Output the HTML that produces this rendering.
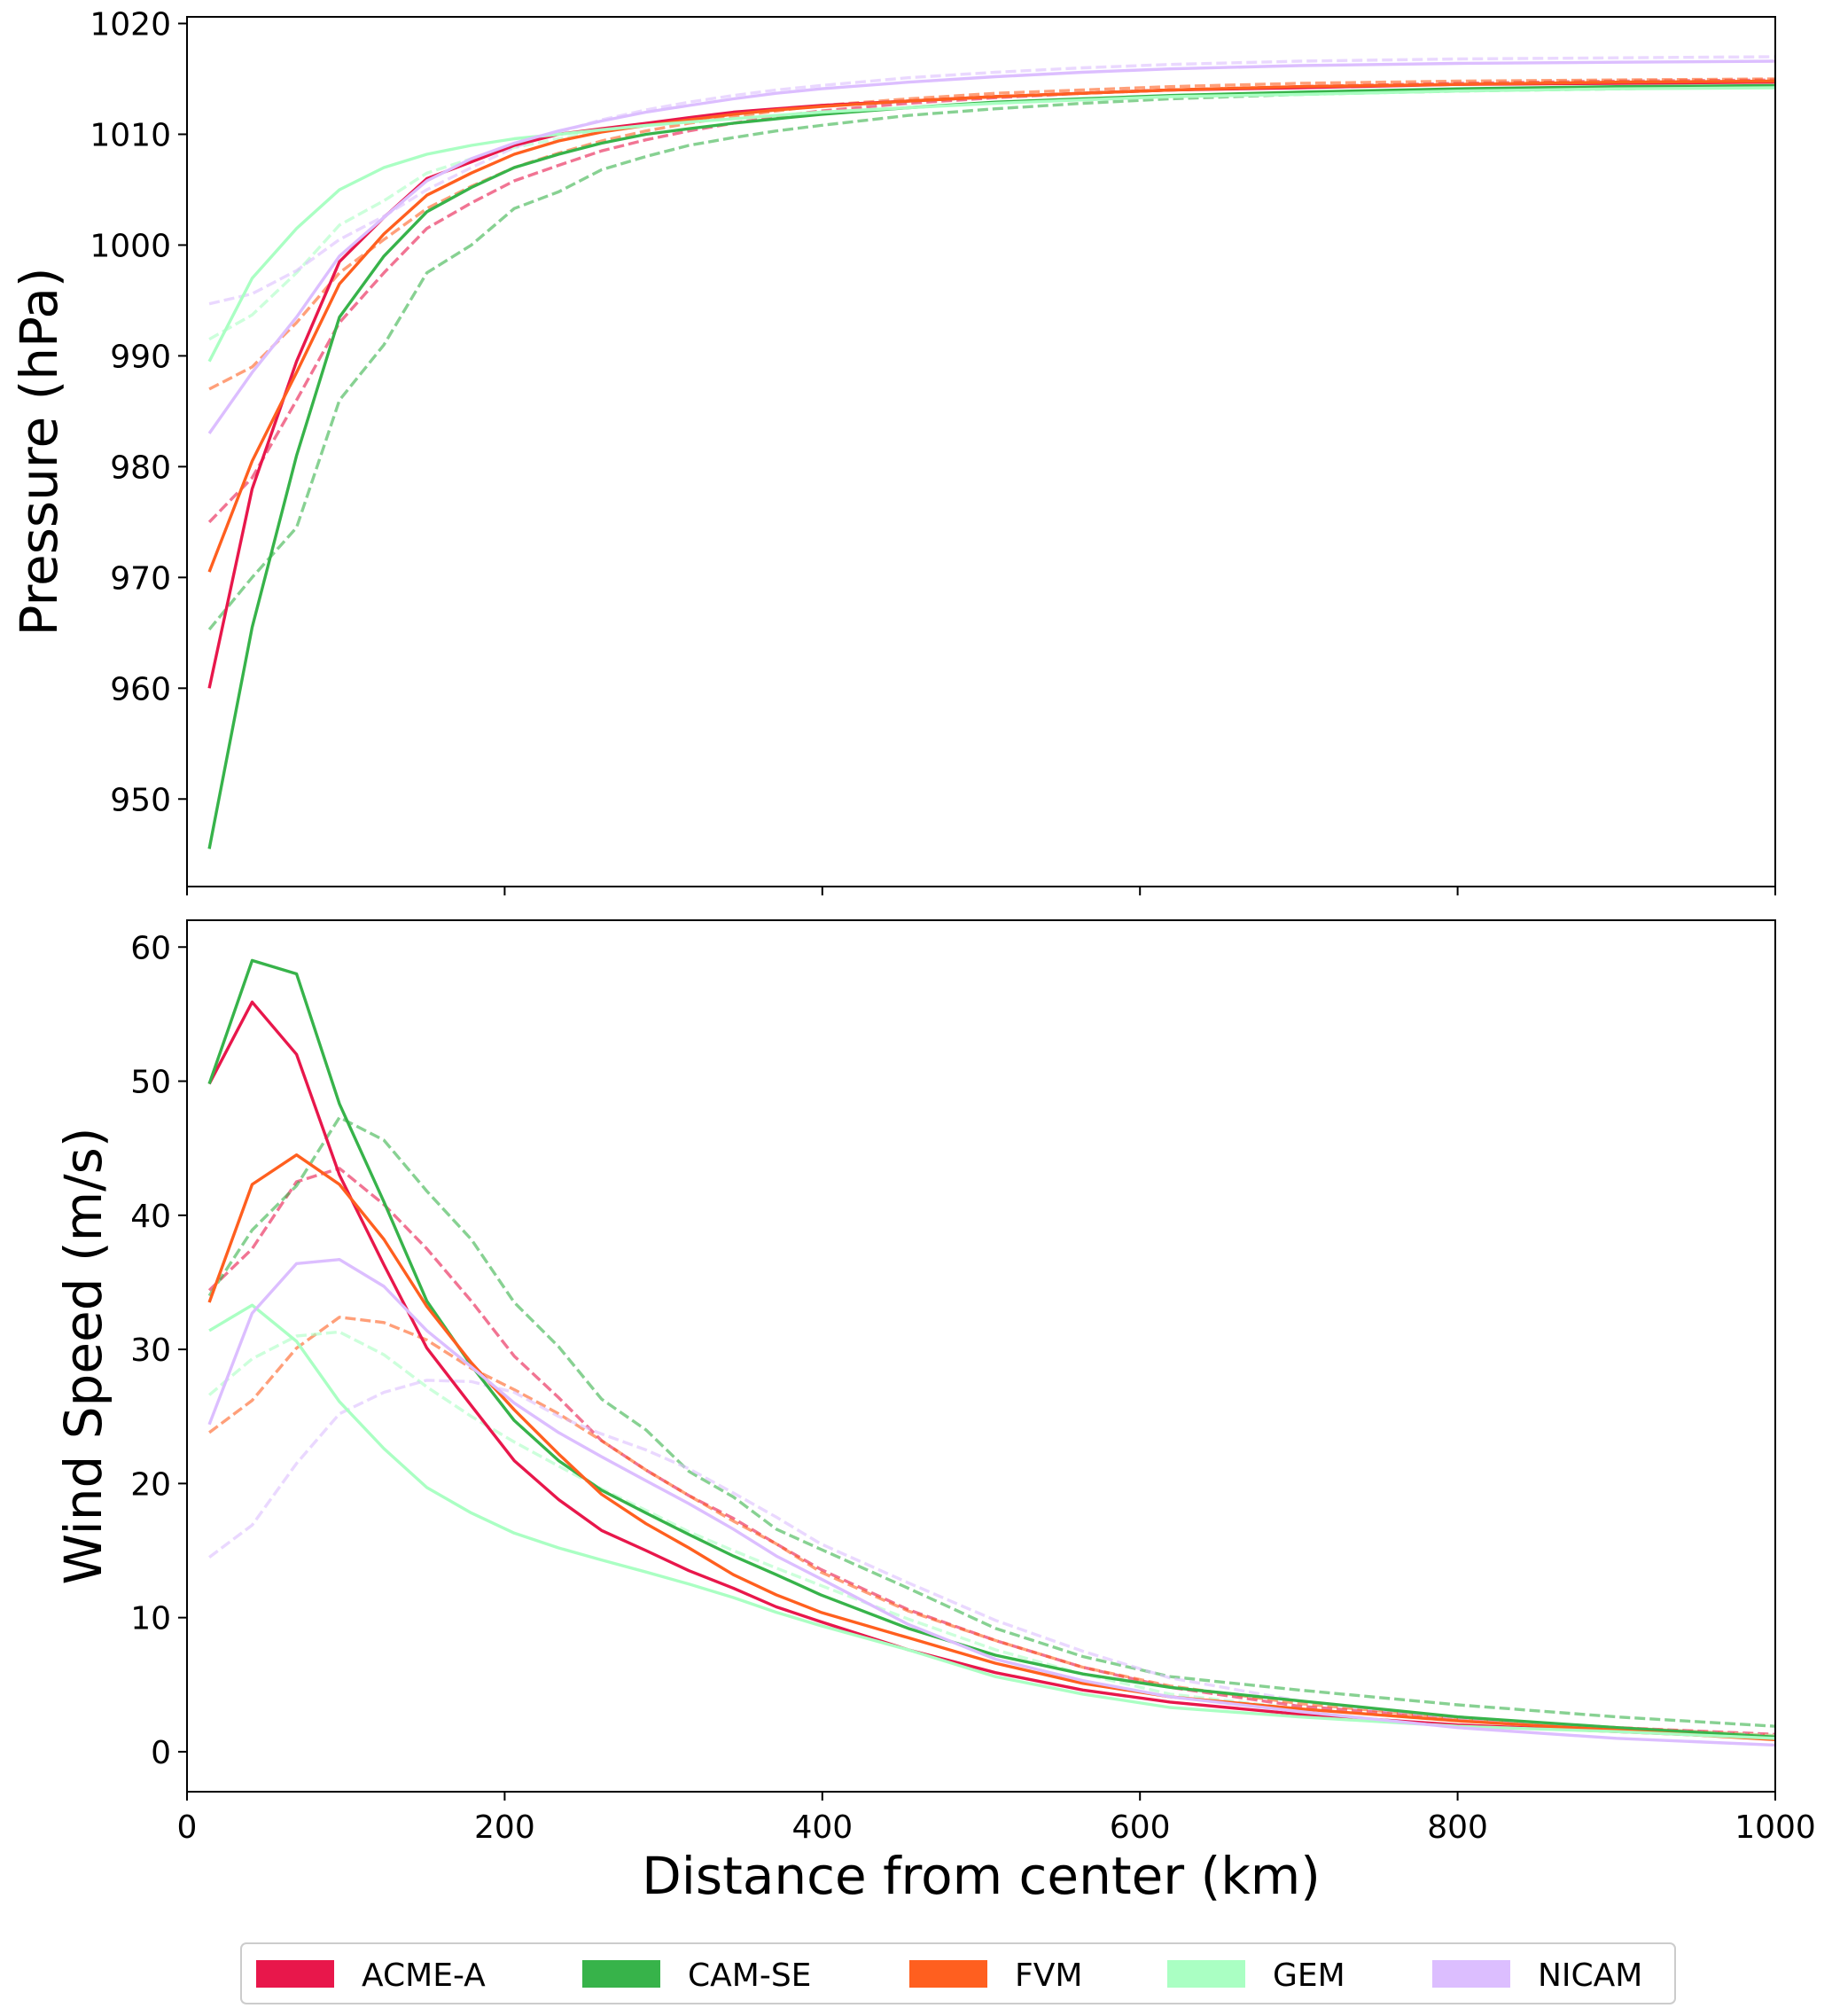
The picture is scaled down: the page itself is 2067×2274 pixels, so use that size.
<!DOCTYPE html>
<html><head><meta charset="utf-8">
<style>
html,body{margin:0;padding:0;background:#fff;}
svg{display:block;font-family:"DejaVu Sans","Liberation Sans",sans-serif;}
</style></head>
<body>
<svg id="chart" width="2067" height="2274" viewBox="0 0 2067 2274"></svg>
<script>
const distances = [14,41,69,96,124,151,179,206,234,261,289,316,344,371,399,454,509,564,619,700,800,900,1000];
const models = ["ACME-A","CAM-SE","FVM","GEM","NICAM"];
const pressureSolid = [
 [960,978,989.5,998.5,1002.5,1006,1007.5,1009,1010,1010.5,1011,1011.5,1012,1012.3,1012.6,1013,1013.4,1013.7,1014,1014.2,1014.5,1014.6,1014.7],
 [945.5,965.5,981,993.5,999,1003,1005.2,1007,1008.2,1009.2,1010,1010.5,1011,1011.4,1011.8,1012.4,1012.9,1013.2,1013.5,1013.8,1014.1,1014.3,1014.4],
 [970.5,980.5,988.5,996.5,1001,1004.5,1006.5,1008.2,1009.4,1010.2,1010.8,1011.3,1011.8,1012.2,1012.5,1013,1013.4,1013.7,1014,1014.3,1014.5,1014.7,1014.8],
 [989.5,997,1001.5,1005,1007,1008.2,1009,1009.6,1010,1010.4,1010.8,1011.1,1011.4,1011.7,1012,1012.4,1012.8,1013.1,1013.4,1013.6,1013.9,1014.1,1014.2],
 [983,988.5,993.5,999,1002.5,1005.8,1007.8,1009.2,1010.3,1011.2,1012,1012.6,1013.2,1013.7,1014.1,1014.7,1015.2,1015.6,1015.9,1016.2,1016.4,1016.5,1016.6]
];
const pressureDashed = [
 [975,979,986,993,997.5,1001.5,1003.8,1005.8,1007.2,1008.5,1009.5,1010.3,1011,1011.6,1012.1,1012.8,1013.3,1013.7,1014,1014.3,1014.6,1014.8,1014.9],
 [965.3,970,974.5,986,991,997.5,1000,1003.3,1004.8,1006.8,1008,1009,1009.7,1010.3,1010.8,1011.7,1012.3,1012.8,1013.2,1013.6,1013.9,1014.1,1014.3],
 [987,989,993,997.5,1000.5,1003.3,1005.3,1007,1008.3,1009.4,1010.3,1011,1011.6,1012.1,1012.6,1013.2,1013.7,1014,1014.3,1014.6,1014.8,1014.9,1015],
 [991.5,993.7,997.5,1001.8,1004,1006.5,1007.8,1008.8,1009.6,1010.3,1010.9,1011.4,1011.8,1012.2,1012.5,1013,1013.4,1013.7,1014,1014.2,1014.5,1014.7,1014.8],
 [994.7,995.6,997.7,1000.5,1002.6,1005,1007,1008.8,1010.2,1011.3,1012.2,1012.9,1013.5,1014,1014.4,1015.1,1015.6,1016,1016.3,1016.6,1016.8,1016.9,1017]
];
const windSolid = [
 [49.8,55.9,52,43,36.3,30.1,25.8,21.7,18.8,16.5,15,13.5,12.2,10.8,9.7,7.6,5.9,4.6,3.7,2.8,2,1.5,1],
 [49.8,59,58,48.3,41,33.6,28.8,24.7,21.7,19.5,17.8,16.2,14.6,13.2,11.7,9.2,7.2,5.8,4.8,3.8,2.6,1.8,1.1],
 [33.5,42.3,44.5,42.3,38.2,33.2,29,25.5,22.2,19.2,17,15.2,13.2,11.7,10.4,8.5,6.6,5.1,4.1,3.2,2.3,1.6,0.9],
 [31.4,33.3,30.6,26.1,22.6,19.7,17.8,16.3,15.2,14.3,13.4,12.5,11.5,10.4,9.4,7.6,5.6,4.3,3.3,2.6,1.9,1.5,1],
 [24.4,32.7,36.4,36.7,34.7,31.4,28.7,26,23.8,22,20.2,18.5,16.6,14.6,12.9,9.5,6.9,5.3,4.1,3,1.8,1,0.5]
];
const windDashed = [
 [34.4,37.5,42.5,43.5,40.8,37.5,33.6,29.5,26.4,23.2,21,19.1,17.4,15.5,13.6,10.6,8.3,6.3,4.8,3.4,2.5,1.8,1.3],
 [34,38.9,42.2,47.3,45.6,41.8,38.2,33.5,30.2,26.3,24,20.9,19,16.6,15.1,12.2,9.2,7.1,5.6,4.6,3.5,2.6,1.9],
 [23.8,26.2,30.1,32.4,32,30.7,28.6,27,25.2,23.2,21,19.1,17.2,15.5,13.4,10.5,8.3,6.3,4.9,3.6,2.5,1.8,1.2],
 [26.6,29.3,31,31.3,29.6,27.2,25,23.1,21.3,19.6,18,16.4,15,13.7,12.4,9.9,7.6,5.8,4.3,3.2,2.3,1.7,1.2],
 [14.5,16.9,21.5,25.2,26.8,27.7,27.6,26.8,25,23.7,22.5,21.1,19.3,17.5,15.5,12.6,9.8,7.5,5.5,3.8,2.5,1.6,1]
];
const xTicks = [0,200,400,600,800,1000];
const pTicks = [950,960,970,980,990,1000,1010,1020];
const wTicks = [0,10,20,30,40,50,60];
const colors = ["#e8174b","#37b34a","#ff5f1f","#aaffc3","#dcbeff"];

const NS="http://www.w3.org/2000/svg";
const svg=document.getElementById('chart');
function mk(tag,attrs,parent){const e=document.createElementNS(NS,tag);for(const k in attrs)e.setAttribute(k,attrs[k]);(parent||svg).appendChild(e);return e;}

const L=211,R=2003;
const xScale=v=>L+(v/1000)*(R-L);
const panels=[
 {top:19,bottom:1000,min:942.1,max:1020.6,ticks:pTicks,solid:pressureSolid,dashed:pressureDashed,label:"Pressure (hPa)",lx:64,name:"pressure"},
 {top:1038,bottom:2021,min:-2.98,max:62.0,ticks:wTicks,solid:windSolid,dashed:windDashed,label:"Wind Speed (m/s)",lx:114,name:"wind"}
];
panels.forEach((p,pi)=>{
  const yScale=v=>p.bottom-(v-p.min)/(p.max-p.min)*(p.bottom-p.top);
  const g=mk('g',{});
  
  
  const cp=mk('clipPath',{id:'clip'+pi},g);
  mk('rect',{x:L,y:p.top,width:R-L,height:p.bottom-p.top},cp);
  const lines=mk('g',{'clip-path':'url(#clip'+pi+')'},g);
  [['dashed',p.dashed],['solid',p.solid]].forEach(([kind,arr])=>{
    arr.forEach((series,si)=>{
      const d=series.map((v,i)=>(i?'L':'M')+xScale(distances[i]).toFixed(1)+' '+yScale(v).toFixed(1)).join(' ');
      const path=mk('path',{d:d,fill:'none',stroke:colors[si],'stroke-width':3.4,'stroke-linejoin':'round'},lines);
      if(kind==='dashed'){path.setAttribute('stroke-dasharray','12 5');path.setAttribute('opacity','0.6');}
      
      
    });
  });
  const frame=mk('rect',{x:L,y:p.top,width:R-L,height:p.bottom-p.top,fill:'none',stroke:'#000','stroke-width':2},g);
  
  
  p.ticks.forEach(t=>{
    const y=yScale(t);
    mk('line',{x1:L-10,x2:L,y1:y,y2:y,stroke:'#000','stroke-width':2},g);
    const tx=mk('text',{x:L-18,y:y+13,'text-anchor':'end','font-size':36,fill:'#000'},g);
    tx.textContent=t;
    
    
  });
  xTicks.forEach(t=>{
    const x=xScale(t);
    mk('line',{x1:x,x2:x,y1:p.bottom,y2:p.bottom+10,stroke:'#000','stroke-width':2},g);
    if(pi===1){
      const tx=mk('text',{x:x,y:p.bottom+52,'text-anchor':'middle','font-size':36,fill:'#000'},g);
      tx.textContent=t;
      
      
    }
  });
  const cy=(p.top+p.bottom)/2;
  const yl=mk('text',{x:p.lx,y:cy,'text-anchor':'middle','font-size':58,fill:'#000',transform:'rotate(-90 '+p.lx+' '+cy+')'},g);
  yl.textContent=p.label;
  
  
});
const xl=mk('text',{x:(L+R)/2,y:2136,'text-anchor':'middle','font-size':58,fill:'#000'});
xl.textContent='Distance from center (km)';



const leg=mk('g',{});


mk('rect',{x:272,y:2192,width:1618,height:68,rx:6,fill:'#fff',stroke:'#ccc','stroke-width':2},leg);
const legX=[289,657,1026,1317,1616];
models.forEach((m,i)=>{
  const e=mk('g',{},leg);
  
  
  mk('rect',{x:legX[i],y:2211,width:88,height:31,fill:colors[i]},e);
  const t=mk('text',{x:legX[i]+119,y:2240,'font-size':36,fill:'#000'},e);
  t.textContent=m;
});
</script>
</body></html>
